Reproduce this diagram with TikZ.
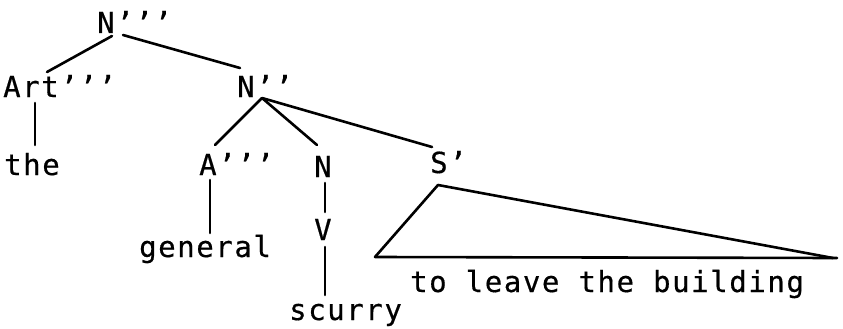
\documentclass[tikz,border=0pt]{standalone}
\usepackage{fontspec}
\newfontfamily\treefont[LetterSpace=5.5,FakeBold=0.5]{DejaVu Sans Mono}
\begin{document}
\begin{tikzpicture}[x=1pt,y=-1pt,
  lab/.style={inner sep=0pt,anchor=base west,font=\treefont\fontsize{29}{33}\selectfont},
  br/.style={line width=2.6pt,line cap=round,line join=round}]
\useasboundingbox (0,0) rectangle (843,329);
\fill[white] (0,0) rectangle (843,329);
% nodes
\node[lab] (Ntop) at (97,33) {N’’’};
\node[lab] (art) at (3,97) {Art’’’};
\node[lab] (the) at (4,175) {the};
\node[lab] (Npp) at (237,97) {N’’};
\node[lab] (App) at (199,175) {A’’’};
\node[lab] (Nn) at (314,177) {N};
\node[lab] (Sp) at (430,173) {S’};
\node[lab] (Vv) at (314,240) {V};
\node[lab] (gen) at (139,257) {general};
\node[lab] (scu) at (289,320) {scurry};
\node[lab] (phr) at (410,292) {to leave the building};
% branches
\draw[br] ([shift={(15,3)}]Ntop.base west) -- ([shift={(44,-25)}]art.base west);
\draw[br] ([shift={(26,2)}]Ntop.base west) -- ([shift={(3,-29)}]Npp.base west);
\draw[br] ([shift={(32,6)}]art.base west) -- ([shift={(31,-30)}]the.base west);
\draw[br] ([shift={(25,1)}]Npp.base west) -- ([shift={(16,-30)}]App.base west);
\draw[br] ([shift={(25,1)}]Npp.base west) -- ([shift={(3,-32)}]Nn.base west);
\draw[br] ([shift={(25,1)}]Npp.base west) -- ([shift={(2,-26)}]Sp.base west);
\draw[br] ([shift={(11,5)}]App.base west) -- ([shift={(71,-24)}]gen.base west);
\draw[br] ([shift={(11,6)}]Nn.base west) -- ([shift={(11,-28)}]Vv.base west);
\draw[br] ([shift={(11,7)}]Vv.base west) -- ([shift={(36,-25)}]scu.base west);
% triangle
\draw[br] ([shift={(-35,-35)}]phr.base west) -- ([shift={(8,12)}]Sp.base west) -- ([shift={(423,-34)}]phr.base west);
\draw[br] ([shift={(-35,-35)}]phr.base west) -- ([shift={(427,-34)}]phr.base west);
\end{tikzpicture}
\end{document}
